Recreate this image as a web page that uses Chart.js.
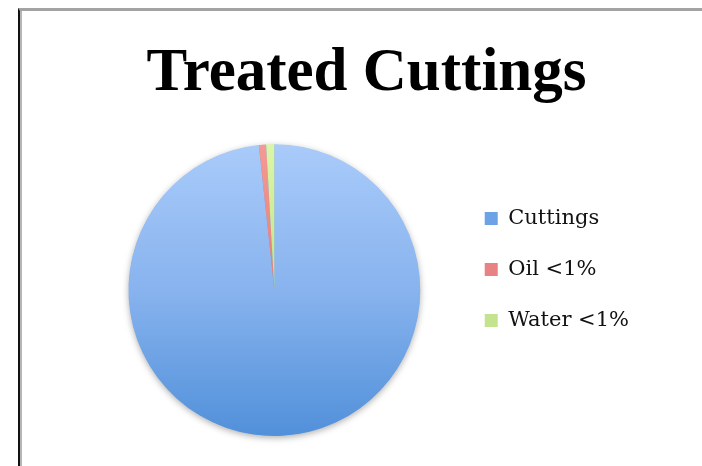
<!DOCTYPE html>
<html>
<head>
<meta charset="utf-8">
<script src="https://cdn.jsdelivr.net/npm/chart.js@4/dist/chart.umd.min.js"></script>
<style>
  html, body { margin: 0; padding: 0; background: #fff; }
  #frame { position: absolute; left: 18px; top: 8px; width: 700px; height: 470px;
           border-left: 2px solid #111; border-top: 3px solid #a3a3a3;
           box-shadow: inset 2px 0 0 #b5b5b5; }
  #wrap { position: absolute; left: 0; top: 0; width: 702px; height: 466px; }
</style>
</head>
<body>
<div id="frame"></div>
<div id="wrap"><canvas id="c" width="702" height="466"></canvas></div>
<script>
const categories = ['Cuttings', 'Oil <1%', 'Water <1%'];
const values = [98.3, 0.8, 0.9];
const chartTitle = 'Treated Cuttings';

const legendColors = ['#6ea2e6', '#e98282', '#c3e38e'];

function sliceColor(ctx) {
  const chart = ctx.chart;
  const a = chart.chartArea;
  if (!a) return legendColors[ctx.dataIndex];
  const g = chart.ctx.createLinearGradient(0, a.top, 0, a.bottom);
  if (ctx.dataIndex === 0) {
    g.addColorStop(0, '#a9cbfa');
    g.addColorStop(0.5, '#88b3ee');
    g.addColorStop(1, '#5190da');
  } else if (ctx.dataIndex === 1) {
    g.addColorStop(0, '#f39a94');
    g.addColorStop(1, '#d9605c');
  } else {
    g.addColorStop(0, '#dcf6a8');
    g.addColorStop(1, '#a9d06a');
  }
  return g;
}

const shadowPlugin = {
  id: 'pieShadow',
  beforeDatasetsDraw(chart) {
    const meta = chart.getDatasetMeta(0);
    const arc = meta.data[0];
    if (!arc) return;
    const ctx = chart.ctx;
    ctx.save();
    ctx.shadowColor = 'rgba(0,0,0,0.35)';
    ctx.shadowBlur = 7;
    ctx.shadowOffsetY = 2;
    ctx.beginPath();
    ctx.arc(arc.x, arc.y, arc.outerRadius - 0.5, 0, Math.PI * 2);
    ctx.fillStyle = '#6d9fe0';
    ctx.fill();
    ctx.restore();
  }
};

new Chart(document.getElementById('c'), {
  type: 'pie',
  data: {
    labels: categories,
    datasets: [{
      data: values,
      backgroundColor: sliceColor,
      borderWidth: 0,
      hoverOffset: 0
    }]
  },
  plugins: [shadowPlugin],
  options: {
    responsive: false,
    animation: false,
    events: [],
    layout: { padding: { left: 94, right: 63, top: 0, bottom: 30 } },
    plugins: {
      tooltip: { enabled: false },
      title: {
        display: true,
        text: chartTitle,
        color: '#000',
        font: { family: '"Liberation Serif", serif', size: 61, weight: 'bold', lineHeight: 1.2 },
        padding: { top: 38, bottom: 33 }
      },
      legend: {
        display: true,
        position: 'right',
        align: 'center',
        title: { display: true, text: '', font: { size: 10, lineHeight: 1.2 }, padding: { top: 45, bottom: 46 } },
        labels: {
          color: '#000',
          boxWidth: 13,
          boxHeight: 13,
          padding: 30,
          font: { family: '"DejaVu Serif", serif', size: 21 },
          generateLabels(chart) {
            return chart.data.labels.map((l, i) => ({
              text: l,
              fillStyle: legendColors[i],
              strokeStyle: legendColors[i],
              fontColor: '#111',
              lineWidth: 0,
              hidden: false,
              index: i
            }));
          }
        }
      }
    }
  }
});
</script>
</body>
</html>
